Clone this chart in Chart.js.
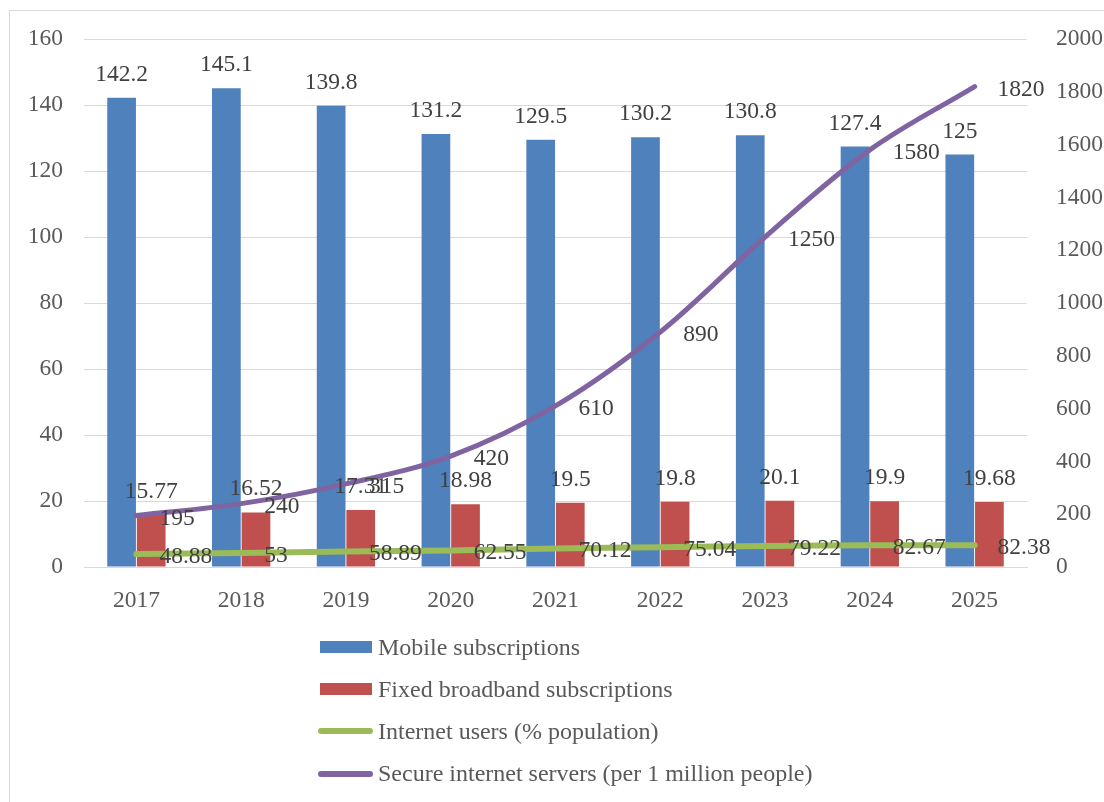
<!DOCTYPE html>
<html>
<head>
<meta charset="utf-8">
<script src="https://cdn.jsdelivr.net/npm/chart.js@4"></script>
<style>
  html, body { margin: 0; padding: 0; background: #fff; }
  #wrap { position: relative; width: 1104px; height: 802px; overflow: hidden; }
  #frame { position: absolute; left: 9px; top: 10px; width: 1200px; height: 900px;
           border-top: 1.5px solid #d9d9d9; border-left: 1.5px solid #d9d9d9; }
  #legend { position: absolute; left: 318px; top: 626px; font-family: "Liberation Serif", "Times New Roman", serif;
            font-size: 24px; color: #595959; }
  .row { height: 42.2px; display: flex; align-items: center; }
  .sw { width: 52px; margin: 0 6px 0 2px; }
  .bar { height: 12px; }
  .line { height: 6px; border-radius: 3px; width: 55px; margin: 0 5px 0 0; }
</style>
</head>
<body>
<div id="wrap">
  <div id="frame"></div>
  <canvas id="myChart" width="1104" height="802"></canvas>
  <div id="legend"></div>
</div>
<script>
// data
var years = ["2017", "2018", "2019", "2020", "2021", "2022", "2023", "2024", "2025"];
var mobile = [142.2, 145.1, 139.8, 131.2, 129.5, 130.2, 130.8, 127.4, 125];
var broadband = [15.77, 16.52, 17.31, 18.98, 19.5, 19.8, 20.1, 19.9, 19.68];
var internetUsers = [48.88, 53, 58.89, 62.55, 70.12, 75.04, 79.22, 82.67, 82.38];
var servers = [195, 240, 315, 420, 610, 890, 1250, 1580, 1820];

var leftTicks = [0, 20, 40, 60, 80, 100, 120, 140, 160];
var rightTicks = [0, 200, 400, 600, 800, 1000, 1200, 1400, 1600, 1800, 2000];

var FONT = "'Liberation Serif', 'Times New Roman', serif";

// draws value labels like the excel original
var valueLabels = {
  id: 'valueLabels',
  afterDatasetsDraw: function(chart) {
    var ctx = chart.ctx;
    ctx.save();
    ctx.font = "23.5px " + FONT;
    ctx.fillStyle = "#404040";
    ctx.textBaseline = "alphabetic";
    chart.data.datasets.forEach(function(ds, i) {
      var meta = chart.getDatasetMeta(i);
      meta.data.forEach(function(el, j) {
        var txt = String(ds.data[j]);
        if (ds.type == 'bar') {
          ctx.textAlign = "center";
          ctx.fillText(txt, el.x, el.y - 17);
        } else {
          ctx.textAlign = "left";
          ctx.fillText(txt, el.x + 23, el.y + 9);
        }
      });
    });
    ctx.restore();
  }
};

var data = {
  labels: years,
  datasets: [
    {
      type: 'bar',
      label: "Mobile subscriptions",
      data: mobile,
      backgroundColor: "#4F81BD",
      yAxisID: 'y',
      order: 1
    },
    {
      type: 'bar',
      label: "Fixed broadband subscriptions",
      data: broadband,
      backgroundColor: "#C0504D",
      yAxisID: 'y',
      order: 1
    },
    {
      type: 'line',
      label: "Internet users (% population)",
      data: internetUsers,
      borderColor: "#9BBB59",
      borderWidth: 6,
      borderCapStyle: 'round',
      pointRadius: 0,
      tension: 0.35,
      yAxisID: 'y1',
      order: 0
    },
    {
      type: 'line',
      label: "Secure internet servers (per 1 million people)",
      data: servers,
      borderColor: "#8064A2",
      borderWidth: 5,
      borderCapStyle: 'round',
      pointRadius: 0,
      tension: 0.35,
      yAxisID: 'y1',
      order: 0
    }
  ]
};

var options = {
  responsive: false,
  animation: false,
  layout: { padding: { left: 0, right: 0, top: 39, bottom: 185 } },
  datasets: { bar: { categoryPercentage: 0.565, barPercentage: 0.97 } },
  plugins: { legend: { display: false }, tooltip: { enabled: false } },
  scales: {
    x: {
      grid: { display: false },
      border: { color: "#d9d9d9" },
      ticks: { color: "#595959", font: { family: FONT, size: 23.5 }, padding: 12 },
      afterFit: function(s) { s.height = 50; }
    },
    y: {
      position: 'left',
      min: 0, max: 160,
      afterBuildTicks: function(s) { s.ticks = leftTicks.map(function(v) { return { value: v }; }); },
      grid: { color: "#d9d9d9", drawTicks: false },
      border: { display: false },
      ticks: { color: "#595959", font: { family: FONT, size: 23.5 }, padding: 21,
               callback: function(v) { return String(v); } },
      afterFit: function(s) { s.width = 84; }
    },
    y1: {
      position: 'right',
      min: 0, max: 2000,
      afterBuildTicks: function(s) { s.ticks = rightTicks.map(function(v) { return { value: v }; }); },
      grid: { display: false },
      border: { display: false },
      ticks: { color: "#595959", font: { family: FONT, size: 23.5 }, padding: 21,
               callback: function(v) { return String(v); } },
      afterFit: function(s) { s.width = 77; }
    }
  }
};

var chart = new Chart(document.getElementById("myChart"), {
  data: data,
  options: options,
  plugins: [valueLabels]
});

// vertical legend like the original
var legend = document.getElementById("legend");
data.datasets.forEach(function(ds) {
  var row = document.createElement("div");
  row.className = "row";
  var sw = document.createElement("div");
  if (ds.type == 'bar') {
    sw.className = "sw bar";
    sw.style.background = ds.backgroundColor;
  } else {
    sw.className = "sw line";
    sw.style.background = ds.borderColor;
  }
  var label = document.createElement("span");
  label.textContent = ds.label;
  row.appendChild(sw);
  row.appendChild(label);
  legend.appendChild(row);
});
</script>
</body>
</html>
